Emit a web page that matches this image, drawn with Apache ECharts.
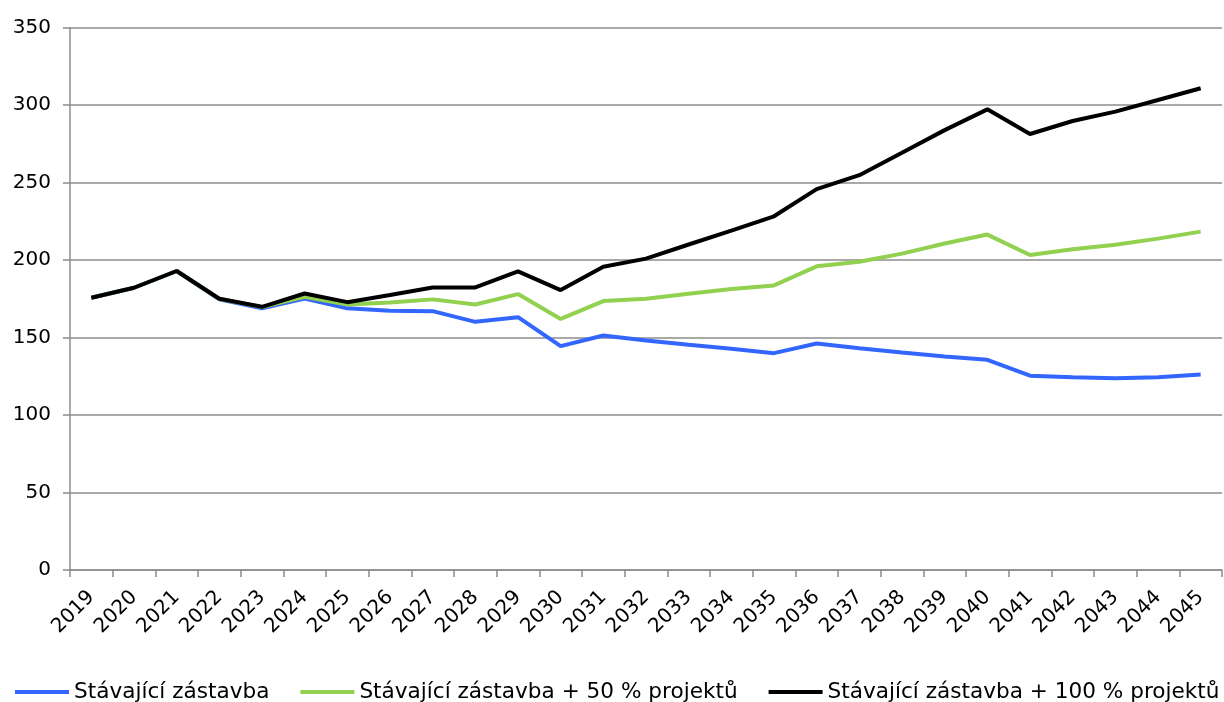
<!DOCTYPE html>
<html>
<head>
<meta charset="utf-8">
<script src="https://cdn.jsdelivr.net/npm/echarts@6/dist/echarts.min.js"></script>
<style>
html,body{margin:0;padding:0;background:#fff;}
#chart{width:1224px;height:702px;}
</style>
</head>
<body>
<div id="chart"></div>
<script>
const years = ['2019','2020','2021','2022','2023','2024','2025','2026','2027','2028','2029','2030','2031','2032','2033','2034','2035','2036','2037','2038','2039','2040','2041','2042','2043','2044','2045'];
const seriesNames = ['Stávající zástavba','Stávající zástavba + 50 % projektů','Stávající zástavba + 100 % projektů'];
const existing = [175.6,182.1,192.9,174.6,168.8,175.2,168.8,167.2,167.0,160.1,163.1,144.4,151.3,148.1,145.3,142.7,139.9,146.1,143.1,140.3,137.7,135.6,125.4,124.4,123.7,124.4,126.1];
const plus50 = [175.6,182.1,192.9,175.0,169.6,176.3,171.3,172.6,174.6,171.3,178.0,162.0,173.5,175.0,178.2,181.3,183.6,195.9,198.9,204.1,210.6,216.4,203.2,206.9,209.9,213.8,218.3];
const plus100 = [175.6,182.1,192.9,175.0,169.8,178.4,172.8,177.4,182.3,182.3,192.7,180.6,195.6,200.9,210.0,219.0,228.2,245.7,254.7,269.2,283.8,297.2,281.3,289.7,295.7,303.2,310.8];
const yTicks = {min:0, max:350, interval:50};

const font = 'DejaVu Sans';
const colors = ['#3366FF','#92D050','#000000'];
const chart = echarts.init(document.getElementById('chart'), null, {renderer:'canvas'});
chart.setOption({
  animation:false,
  color: colors,
  textStyle:{fontFamily:font},
  grid:{left:70, right:2, top:27.5, bottom:132, containLabel:false},
  legend:{
    left:15, top:681, padding:0,
    itemWidth:54, itemHeight:4, itemGap:31, icon:'rect',
    textStyle:{fontFamily:font, fontSize:21.6, color:'#000'},
    data: seriesNames
  },
  xAxis:{
    type:'category', data:years, boundaryGap:true,
    axisLine:{lineStyle:{color:'#8c8c8c', width:1.5}},
    axisTick:{show:true, length:7, lineStyle:{color:'#8c8c8c', width:1.5}},
    axisLabel:{rotate:45, margin:24, fontFamily:font, fontSize:20, color:'#000', interval:0},
    splitLine:{show:false}
  },
  yAxis:{
    type:'value', min:yTicks.min, max:yTicks.max, interval:yTicks.interval,
    axisLine:{show:true, lineStyle:{color:'#8c8c8c', width:1.5}},
    axisTick:{show:true, length:7, lineStyle:{color:'#8c8c8c', width:1.5}},
    axisLabel:{margin:19, fontFamily:font, fontSize:20, color:'#000'},
    splitLine:{show:true, lineStyle:{color:'#8c8c8c', width:1.5}}
  },
  series:[
    {name:seriesNames[0], type:'line', data:existing, symbol:'none', lineStyle:{width:4, color:colors[0]}, z:2},
    {name:seriesNames[1], type:'line', data:plus50, symbol:'none', lineStyle:{width:4, color:colors[1]}, z:3},
    {name:seriesNames[2], type:'line', data:plus100, symbol:'none', lineStyle:{width:4, color:colors[2]}, z:4}
  ]
});
</script>
</body>
</html>
